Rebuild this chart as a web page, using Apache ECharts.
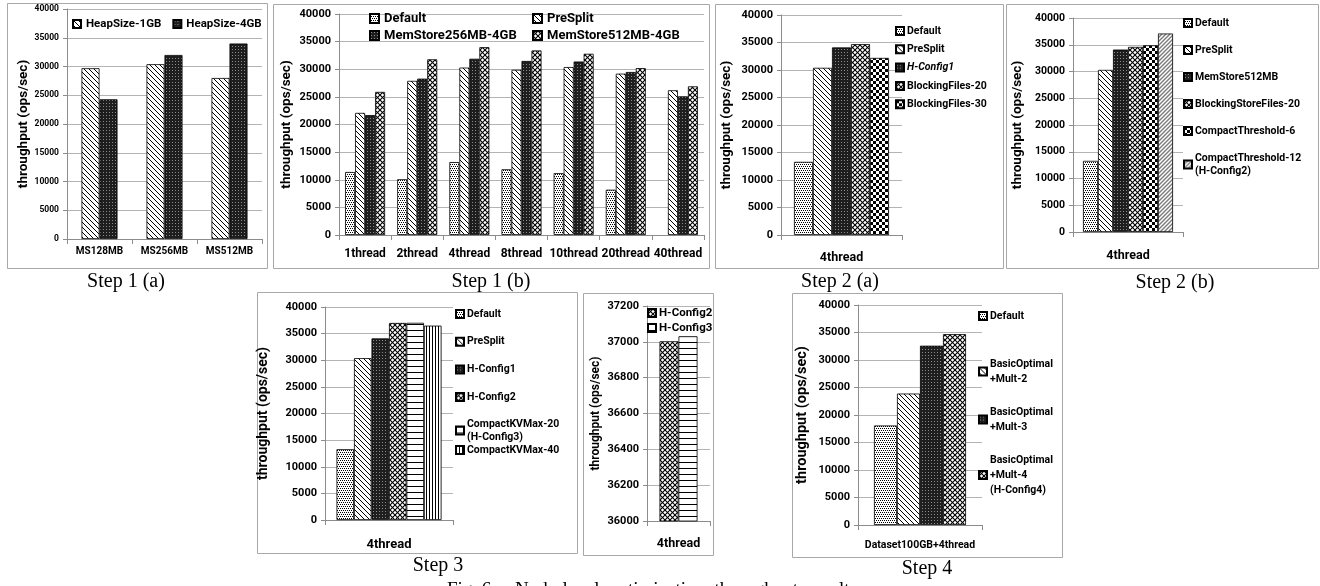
<!DOCTYPE html>
<html>
<head>
<meta charset="utf-8">
<script src="https://cdn.jsdelivr.net/npm/echarts@6/dist/echarts.min.js"></script>
<style>
  html, body { margin: 0; padding: 0; background: #fff; }
  #chart { width: 1320px; height: 586px; }
</style>
</head>
<body>
<div id="chart"></div>
<script>
// ---- data ----
const step1aCats = ['MS128MB', 'MS256MB', 'MS512MB'];
const heap1GB = [29700, 30400, 28000];
const heap4GB = [24300, 32000, 34000];

const step1bCats = ['1thread', '2thread', '4thread', '8thread', '10thread', '20thread', '40thread'];
const s1bDefault  = [11400, 10100, 13200, 11900, 11200, 8200, null];
const s1bPreSplit = [22100, 27900, 30300, 29900, 30400, 29200, 26200];
const s1bMem256   = [21700, 28300, 31900, 31500, 31400, 29500, 25100];
const s1bMem512   = [25900, 31800, 34000, 33400, 32800, 30200, 26900];

const threadCat = ['4thread'];
const step2aNames = ['Default', 'PreSplit', 'H-Config1', 'BlockingFiles-20', 'BlockingFiles-30'];
const step2aVals  = [13300, 30400, 34100, 34700, 32200];

const step2bNames = ['Default', 'PreSplit', 'MemStore512MB', 'BlockingStoreFiles-20', 'CompactThreshold-6', 'CompactThreshold-12'];
const step2bVals  = [13300, 30300, 34100, 34600, 34900, 37100];

const step3Names = ['Default', 'PreSplit', 'H-Config1', 'H-Config2', 'CompactKVMax-20', 'CompactKVMax-40'];
const step3Vals  = [13300, 30400, 34100, 37000, 37030, 36500];

const zoomNames = ['H-Config2', 'H-Config3'];
const zoomVals  = [37003, 37031];

const step4Cat = ['Dataset100GB+4thread'];
const step4Names = ['Default', 'BasicOptimal+Mult-2', 'BasicOptimal+Mult-3', 'BasicOptimal+Mult-4'];
const step4Vals  = [18100, 23900, 32600, 34700];

// ---- fill patterns ----
function tile(w, h, draw) {
    const c = document.createElement('canvas');
    c.width = w; c.height = h;
    const g = c.getContext('2d');
    g.fillStyle = '#fff';
    g.fillRect(0, 0, w, h);
    draw(g, w, h);
    return { image: c, repeat: 'repeat' };
}
function diag(g, w, h, dir) {
    g.beginPath();
    for (let k = -1; k <= 1; k++) {
        if (dir > 0) { g.moveTo(k * w - 1, -1); g.lineTo(k * w + w + 1, h + 1); }
        else { g.moveTo(k * w - 1, h + 1); g.lineTo(k * w + w + 1, -1); }
    }
    g.stroke();
}
const PAT = {
    dots: tile(4, 4, g => {
        g.fillStyle = '#000';
        g.fillRect(0, 0, 1, 1); g.fillRect(2, 0, 1, 1); g.fillRect(1, 2, 1, 1); g.fillRect(3, 2, 1, 1);
    }),
    back: tile(5, 5, (g, w, h) => { g.strokeStyle = '#000'; g.lineWidth = 1; diag(g, w, h, 1); }),
    dark: tile(3, 3, g => { g.fillStyle = '#1e1e1e'; g.fillRect(0, 0, 3, 3); g.fillStyle = '#8a8a8a'; g.fillRect(1, 1, 1, 1); }),
    cross: tile(5, 5, (g, w, h) => { g.strokeStyle = '#000'; g.lineWidth = 1.1; diag(g, w, h, 1); diag(g, w, h, -1); }),
    check: tile(6, 6, g => { g.fillStyle = '#000'; g.fillRect(0, 0, 3, 3); g.fillRect(3, 3, 3, 3); }),
    light: tile(4, 4, (g, w, h) => { g.strokeStyle = '#7a7a7a'; g.lineWidth = 1.4; diag(g, w, h, -1); }),
    horiz: tile(1, 6, g => { g.fillStyle = '#000'; g.fillRect(0, 0, 1, 1); }),
    vert: tile(3, 1, g => { g.fillStyle = '#000'; g.fillRect(0, 0, 1, 1); })
};
const patternOf = {
    'HeapSize-1GB': 'back', 'HeapSize-4GB': 'dark',
    'Default': 'dots', 'PreSplit': 'back',
    'MemStore256MB-4GB': 'dark', 'MemStore512MB-4GB': 'cross',
    'H-Config1': 'dark', 'BlockingFiles-20': 'cross', 'BlockingFiles-30': 'check',
    'MemStore512MB': 'dark', 'BlockingStoreFiles-20': 'cross', 'CompactThreshold-6': 'check',
    'CompactThreshold-12': 'light', 'H-Config2': 'cross',
    'CompactKVMax-20': 'horiz', 'H-Config3': 'horiz', 'CompactKVMax-40': 'vert',
    'BasicOptimal+Mult-2': 'back', 'BasicOptimal+Mult-3': 'dark', 'BasicOptimal+Mult-4': 'cross'
};

const FONT = 'Roboto';
const GRID_C = '#b4b4b4';
const AXIS_C = '#8c8c8c';

// panel plot areas (px)
const grids = [
    { left: 67,   top: 9,   width: 195, height: 230 },  // step 1(a)
    { left: 339,  top: 14,  width: 365, height: 221 },  // step 1(b)
    { left: 781,  top: 15,  width: 121, height: 220 },  // step 2(a)
    { left: 1073, top: 18,  width: 110, height: 214 },  // step 2(b)
    { left: 325,  top: 307, width: 128, height: 213 },  // step 3
    { left: 647,  top: 306, width: 63,  height: 215 },  // step 3 zoom
    { left: 858,  top: 305, width: 124, height: 220 }   // step 4
];
// per-panel text sizes
const tickFs  = [8.5, 11, 11, 10.5, 11, 11, 11];
const catFs   = [10, 12, 12.5, 12.5, 13, 12.5, 10.5];
const catGap  = [7, 13, 16, 17, 18, 16, 15];
const nameFs  = [13.5, 13.5, 13.5, 13.5, 14, 12, 14.5];
const nameGap = [36, 45, 47, 48, 55, 45, 48];
const barW    = [18, 10, 19, 15, 17.5, 19, 23];
const cats    = [step1aCats, step1bCats, threadCat, threadCat, threadCat, threadCat, step4Cat];

const xAxis = cats.map((c, i) => ({
    type: 'category', gridIndex: i, data: c,
    axisLine: { lineStyle: { color: AXIS_C } },
    axisTick: { show: true, length: 5, lineStyle: { color: AXIS_C } },
    axisLabel: { fontFamily: FONT, fontWeight: 'bold', fontSize: catFs[i], color: '#000', margin: catGap[i], interval: 0 }
}));
const yAxis = grids.map((g, i) => ({
    type: 'value', gridIndex: i,
    min: i === 5 ? 36000 : 0, max: i === 5 ? 37200 : 40000, interval: i === 5 ? 200 : 5000,
    name: 'throughput (ops/sec)', nameLocation: 'middle', nameGap: nameGap[i],
    nameTextStyle: { fontFamily: FONT, fontWeight: 'bold', fontSize: nameFs[i], color: '#000' },
    axisLine: { show: true, lineStyle: { color: AXIS_C } },
    axisTick: { show: true, length: 4, lineStyle: { color: AXIS_C } },
    splitLine: { lineStyle: { color: GRID_C } },
    axisLabel: { fontFamily: FONT, fontWeight: 'bold', fontSize: tickFs[i], color: '#000', margin: 8, formatter: v => String(v) }
}));

const series = [];
function bar(name, data, gi) {
    series.push({
        type: 'bar', name, data, xAxisIndex: gi, yAxisIndex: gi,
        barWidth: barW[gi], barGap: '0%',
        itemStyle: { color: PAT[patternOf[name]], borderColor: '#000', borderWidth: 0.8 },
        emphasis: { disabled: true }, animation: false
    });
}
bar('HeapSize-1GB', heap1GB, 0);
bar('HeapSize-4GB', heap4GB, 0);
bar('Default', s1bDefault, 1);
bar('PreSplit', s1bPreSplit, 1);
bar('MemStore256MB-4GB', s1bMem256, 1);
bar('MemStore512MB-4GB', s1bMem512, 1);
step2aNames.forEach((n, k) => bar(n, [step2aVals[k]], 2));
step2bNames.forEach((n, k) => bar(n, [step2bVals[k]], 3));
step3Names.forEach((n, k) => bar(n, [step3Vals[k]], 4));
zoomNames.forEach((n, k) => bar(n, [zoomVals[k]], 5));
step4Names.forEach((n, k) => bar(n, [step4Vals[k]], 6));

const multiLine = {
    'CompactThreshold-12': 'CompactThreshold-12\n(H-Config2)',
    'CompactKVMax-20': 'CompactKVMax-20\n(H-Config3)',
    'BasicOptimal+Mult-2': 'BasicOptimal\n+Mult-2',
    'BasicOptimal+Mult-3': 'BasicOptimal\n+Mult-3',
    'BasicOptimal+Mult-4': 'BasicOptimal\n+Mult-4\n(H-Config4)'
};
function txt(fs, lh, extra) {
    return Object.assign({ fontFamily: FONT, fontWeight: 'bold', fontSize: fs, color: '#000', lineHeight: lh }, extra || {});
}
function legend(data, left, top, opts) {
    return Object.assign({
        data, left, top, orient: 'vertical', icon: 'rect', itemWidth: 8, itemHeight: 8, itemGap: 5,
        selectedMode: false, padding: 0,
        formatter: n => multiLine[n] || n,
        textStyle: txt(10.5, 13, { padding: [0, 0, 0, -2] })
    }, opts || {});
}
const legends = [
    legend(['HeapSize-1GB', 'HeapSize-4GB'], 72, 17, { orient: 'horizontal', itemGap: 11, textStyle: txt(11.5, 14) }),
    legend(['Default', 'MemStore256MB-4GB'], 369, 11, { itemWidth: 9, itemHeight: 9, itemGap: 2, textStyle: txt(13, 15) }),
    legend(['PreSplit', 'MemStore512MB-4GB'], 532, 11, { itemWidth: 9, itemHeight: 9, itemGap: 2, textStyle: txt(13, 15) }),
    legend(step2aNames, 895, 24.5, {
        itemGap: 5.3,
        formatter: n => n === 'H-Config1' ? '{i|H-Config1}' : n,
        textStyle: txt(10.5, 13, { padding: [0, 0, 0, -2], rich: { i: txt(10.5, 13, { fontStyle: 'italic' }) } })
    }),
    legend(step2bNames, 1183, 16.5, { itemGap: 14 }),
    legend(step3Names.slice(0, 4), 455, 307.5, { itemGap: 14.7 }),
    legend(step3Names.slice(4), 455, 417.5, { itemGap: 0 }),
    legend(zoomNames, 647, 306.5, { itemGap: 2, textStyle: txt(11.5, 13, { padding: [0, 0, 0, -2] }) }),
    legend(step4Names.slice(0, 1), 978, 309.5),
    legend(step4Names.slice(1), 978, 356.5, { itemGap: 18, textStyle: txt(10.5, 15, { padding: [0, 0, 0, -2] }) })
];

// panel frames and captions
const boxes = [
    [7, 3, 260, 265], [273, 4, 436, 264], [715, 4, 288, 264], [1006, 4, 312, 264],
    [257, 292, 320, 261], [583, 293, 130, 262], [792, 293, 270, 264]
];
const captions = [
    ['Step 1 (a)', 126, 282], ['Step 1 (b)', 491, 282], ['Step 2 (a)', 840, 282], ['Step 2 (b)', 1175, 283],
    ['Step 3', 438, 566], ['Step 4', 927, 569]
];
const graphic = boxes.map(b => ({
    type: 'rect', silent: true, z: -1,
    shape: { x: b[0] + 0.5, y: b[1] + 0.5, width: b[2], height: b[3] },
    style: { fill: 'none', stroke: '#a8a8a8', lineWidth: 1 }
})).concat(captions.map(c => ({
    type: 'text', silent: true, x: c[1], y: c[2],
    style: { text: c[0], fill: '#000', font: '20px "Liberation Serif"', textAlign: 'center', textVerticalAlign: 'middle' }
}))).concat([{
    type: 'text', silent: true, x: 447, y: 590,
    style: { text: 'Fig. 6.    Node-level  optimization  throughput  results', fill: '#000', font: '19px "Liberation Serif"', textAlign: 'left', textVerticalAlign: 'middle' }
}]);

const chart = echarts.init(document.getElementById('chart'), null, { renderer: 'canvas' });
chart.setOption({
    backgroundColor: '#fff',
    animation: false,
    grid: grids,
    xAxis, yAxis, series,
    legend: legends,
    graphic
});
window.addEventListener('resize', () => chart.resize());
</script>
</body>
</html>
